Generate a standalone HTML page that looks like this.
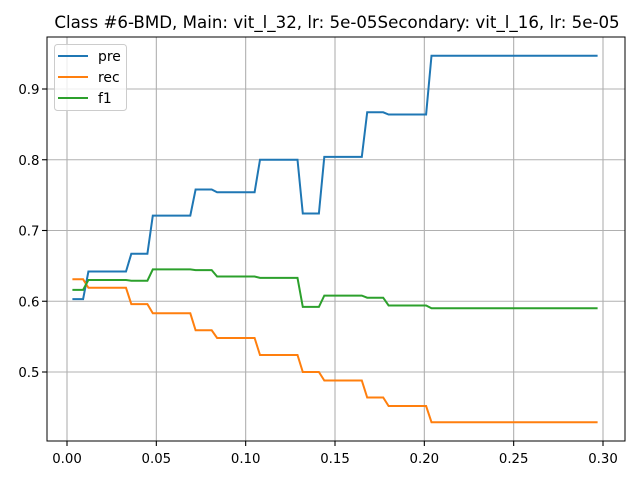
<!DOCTYPE html>
<html><head><meta charset="utf-8"><style>
body{margin:0;background:#fff}
svg text{font-family:"DejaVu Sans","Liberation Sans",sans-serif;fill:#000}
</style></head><body>
<svg width="640" height="480" viewBox="0 0 640 480">
<g id="grid"></g>
<g id="series"></g>
<rect x="47" y="37" width="578" height="404" fill="none" stroke="#000" stroke-width="1"/>
<g id="ticks"></g>
<text x="337" y="28" font-size="16.67" text-anchor="middle">Class #6-BMD, Main: vit_l_32, lr: 5e-05Secondary: vit_l_16, lr: 5e-05</text>
<g>
<rect x="54.5" y="44.5" width="72" height="66" rx="3" fill="#fff" fill-opacity="0.8" stroke="#ccc"/>
<line x1="58" y1="56" x2="88" y2="56" stroke="#1f77b4" stroke-width="2"/>
<text x="98" y="61" font-size="13.9">pre</text>
<line x1="58" y1="77" x2="88" y2="77" stroke="#ff7f0e" stroke-width="2"/>
<text x="98" y="82" font-size="13.9">rec</text>
<line x1="58" y1="98" x2="88" y2="98" stroke="#2ca02c" stroke-width="2"/>
<text x="98" y="103" font-size="13.9">f1</text>
</g>
</svg>
<script>
const thresholds=[0.003,0.009,0.012,0.033,0.036,0.045,0.048,0.069,0.072,0.081,0.084,0.105,0.108,0.129,0.132,0.141,0.144,0.165,0.168,0.177,0.180,0.201,0.204,0.297];
const preVals=[0.603,0.603,0.642,0.642,0.667,0.667,0.721,0.721,0.758,0.758,0.754,0.754,0.800,0.800,0.724,0.724,0.804,0.804,0.867,0.867,0.864,0.864,0.947,0.947];
const recVals=[0.631,0.631,0.619,0.619,0.596,0.596,0.583,0.583,0.559,0.559,0.548,0.548,0.524,0.524,0.500,0.500,0.488,0.488,0.464,0.464,0.452,0.452,0.429,0.429];
const f1Vals=[0.616,0.616,0.630,0.630,0.629,0.629,0.645,0.645,0.644,0.644,0.635,0.635,0.633,0.633,0.592,0.592,0.608,0.608,0.605,0.605,0.594,0.594,0.590,0.590];
const xTicks=[0,0.05,0.10,0.15,0.20,0.25,0.30];
const xTickLabels=["0.00","0.05","0.10","0.15","0.20","0.25","0.30"];
const yTicks=[0.5,0.6,0.7,0.8,0.9];
const yTickLabels=["0.5","0.6","0.7","0.8","0.9"];
const NS="http://www.w3.org/2000/svg";
function xs(v){return 67+v*(536/0.3);}
function ys(v){return 372-(v-0.5)*707.5;}
const grid=document.getElementById('grid'),ticks=document.getElementById('ticks'),ser=document.getElementById('series');
function mk(tag,attrs,parent){const e=document.createElementNS(NS,tag);for(const k in attrs)e.setAttribute(k,attrs[k]);parent.appendChild(e);return e;}
xTicks.forEach((t,i)=>{const x=xs(t);
 const g=mk('line',{x1:x,y1:37,x2:x,y2:441,stroke:'#b0b0b0','stroke-width':1.1},grid);
 
 
 const tk=mk('line',{x1:x,y1:441,x2:x,y2:446,stroke:'#000','stroke-width':1.1},ticks);
 
 
 const tx=mk('text',{x:x,y:463,'font-size':'13.3','text-anchor':'middle'},ticks);tx.textContent=xTickLabels[i];
 
 
});
yTicks.forEach((t,i)=>{const y=ys(t);
 const g=mk('line',{x1:47,y1:y,x2:625,y2:y,stroke:'#b0b0b0','stroke-width':1.1},grid);
 
 
 const tk=mk('line',{x1:42,y1:y,x2:47,y2:y,stroke:'#000','stroke-width':1.1},ticks);
 
 
 const tx=mk('text',{x:39.5,y:y+5,'font-size':'13.3','text-anchor':'end'},ticks);tx.textContent=yTickLabels[i];
 
 
});
[[preVals,'#1f77b4','pre-line'],[recVals,'#ff7f0e','rec-line'],[f1Vals,'#2ca02c','f1-line']].forEach(([vals,c,n])=>{
 const pts=thresholds.map((t,i)=>xs(t).toFixed(1)+','+ys(vals[i]).toFixed(1)).join(' ');
 const p=mk('polyline',{points:pts,fill:'none',stroke:c,'stroke-width':2},ser);
 
 
});
</script>
</body></html>
